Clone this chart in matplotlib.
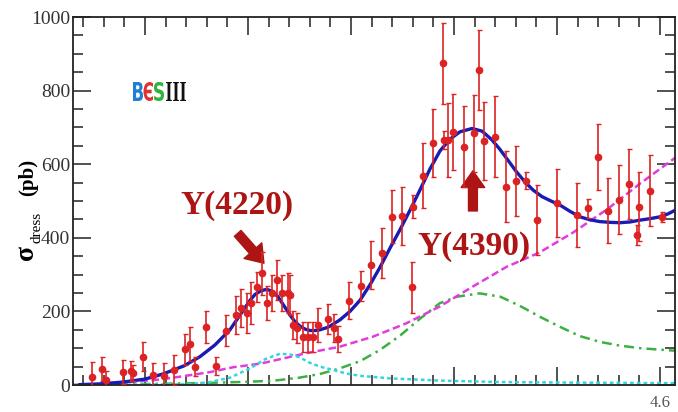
import matplotlib
matplotlib.use("Agg")
import matplotlib.pyplot as plt
from matplotlib.ticker import MultipleLocator, FixedLocator, FixedFormatter
from matplotlib.textpath import TextPath
from matplotlib.patches import PathPatch
from matplotlib.font_manager import FontProperties
from matplotlib.transforms import Affine2D

# data points: sqrt(s) (GeV), dressed cross section (pb), error (pb)
energy = [4.0485, 4.0583, 4.0624, 4.0786, 4.0867, 4.0883, 4.0981, 4.1078,
          4.1182, 4.1279, 4.1385, 4.1434, 4.1483, 4.1589, 4.1686, 4.1783,
          4.1883, 4.1929, 4.1987, 4.2026, 4.2084, 4.2133, 4.2182, 4.2230,
          4.2279, 4.2327, 4.2391, 4.2408, 4.2440, 4.2473, 4.2537, 4.2585,
          4.2634, 4.2683, 4.2780, 4.2835, 4.2877, 4.2981, 4.3094, 4.3194,
          4.3298, 4.3395, 4.3492, 4.3595, 4.3605, 4.3696, 4.3799, 4.3896,
          4.3900, 4.3945, 4.3993, 4.4100, 4.4197, 4.4246, 4.4294, 4.4398,
          4.4502, 4.4599, 4.4696, 4.4803, 4.4997, 4.5191, 4.5298, 4.5401,
          4.5498, 4.5602, 4.5702, 4.5774, 4.5799, 4.5903, 4.6022]
xsec = [21, 43, 14, 36, 39, 33, 77, 27,
        25, 41, 97, 111, 50, 158, 52, 148,
        190, 210, 195, 222, 267, 303, 222, 249,
        285, 251, 249, 245, 163, 154, 131, 131,
        131, 163, 180, 154, 125, 229, 269, 326,
        358, 457, 459, 265, 485, 569, 658, 874,
        666, 666, 688, 648, 684, 856, 664, 675,
        539, 555, 555, 448, 494, 462, 480, 619,
        474, 503, 545, 408, 485, 528, 456]
xsec_err = [42, 33, 25, 32, 27, 22, 40, 33,
            34, 41, 42, 47, 25, 43, 25, 41,
            52, 52, 54, 57, 41, 59, 46, 49,
            54, 49, 54, 54, 38, 41, 41, 41,
            41, 45, 41, 38, 34, 50, 41, 65,
            68, 72, 79, 70, 30, 89, 93, 111,
            24, 100, 104, 109, 104, 109, 106, 109,
            97, 95, 23, 95, 92, 88, 26, 90,
            89, 94, 95, 27, 93, 96, 14]

# total fit
fit_x = [4.0369, 4.0563, 4.0786, 4.1000, 4.1175, 4.1379, 4.1534, 4.1680,
         4.1825, 4.1971, 4.2019, 4.2068, 4.2126, 4.2182, 4.2233, 4.2291,
         4.2350, 4.2408, 4.2456, 4.2505, 4.2553, 4.2602, 4.2650, 4.2699,
         4.2767, 4.2796, 4.2893, 4.2990, 4.3087, 4.3184, 4.3282, 4.3379,
         4.3476, 4.3573, 4.3670, 4.3767, 4.3864, 4.3961, 4.4058, 4.4175,
         4.4272, 4.4369, 4.4447, 4.4524, 4.4602, 4.4689, 4.4767, 4.4854,
         4.4942, 4.5029, 4.5126, 4.5223, 4.5320, 4.5417, 4.5515, 4.5612,
         4.5709, 4.5806, 4.5903, 4.6000, 4.6078, 4.6155]
fit_y = [1, 3, 8, 16, 30, 52, 77, 109,
         150, 210, 230, 246, 256, 260, 255, 240,
         215, 190, 172, 160, 152, 148, 148, 150,
         156, 160, 177, 200, 230, 272, 320, 372,
         422, 475, 530, 587, 636, 668, 688, 697,
         690, 666, 640, 611, 581, 552, 530, 512,
         500, 489, 472, 457, 449, 444, 442, 441,
         443, 448, 452, 457, 465, 476]

# non-resonant component
bkg_x = [4.030, 4.056, 4.085, 4.115, 4.135, 4.163, 4.185, 4.212, 4.234,
         4.256, 4.289, 4.321, 4.354, 4.386, 4.418, 4.451, 4.483, 4.516,
         4.549, 4.581, 4.616]
bkg_y = [0, 2, 8, 15, 23, 35, 48, 58, 72,
         86, 104, 131, 168, 213, 267, 321, 360, 415,
         478, 548, 620]

# Y(4220) component
y4220_x = [4.0301, 4.1437, 4.1631, 4.1825, 4.2019, 4.2165, 4.2311, 4.2408,
           4.2505, 4.2602, 4.2699, 4.2825, 4.2942, 4.3087, 4.3379, 4.3864,
           4.4447, 4.5417, 4.6155]
y4220_y = [0, 2, 8, 20, 45, 70, 85, 83,
           75, 60, 50, 41, 32, 25, 18, 12,
           8, 6, 5]

# Y(4390) component
y4390_x = [4.030, 4.056, 4.105, 4.153, 4.202, 4.226, 4.250, 4.270, 4.289,
           4.309, 4.328, 4.348, 4.367, 4.386, 4.403, 4.425, 4.445, 4.464,
           4.483, 4.503, 4.522, 4.542, 4.561, 4.581, 4.600, 4.616]
y4390_y = [0, 1, 3, 5, 9, 12, 20, 30, 45,
           65, 95, 135, 180, 222, 240, 249, 240, 215,
           186, 158, 133, 117, 107, 100, 96, 93]

x_ticks = [4.1, 4.2, 4.3, 4.4, 4.5, 4.6]
x_tick_labels = ["", "", "", "", "", "4.6"]

DARK_RED = "#ad1414"
SERIF = "Liberation Serif"

fig = plt.figure(figsize=(6.78, 4.12), dpi=100)
ax = fig.add_axes([73 / 678, 27 / 412, 602 / 678, 368 / 412])

ax.plot(y4390_x, y4390_y, color="#3cb043", lw=1.8, ls=(0, (4, 2, 1, 2)))
ax.plot(bkg_x, bkg_y, color="#e03ce0", lw=1.8, ls=(0, (3, 1.5)))
ax.plot(y4220_x, y4220_y, color="#35d5e0", lw=1.8, ls=(0, (1.5, 1.2)))
ax.plot(fit_x, fit_y, color="#1a1ab4", lw=2.4, solid_joinstyle="round")

ax.errorbar(energy, xsec, yerr=xsec_err, fmt="o", color="#dc2222",
            ms=4.5, lw=1.2, capsize=1.8, capthick=1.0, zorder=5)

ax.set_xlim(4.0301, 4.6146)
ax.set_ylim(0, 1000)

ax.xaxis.set_major_locator(FixedLocator(x_ticks))
ax.xaxis.set_major_formatter(FixedFormatter(x_tick_labels))
ax.xaxis.set_minor_locator(MultipleLocator(0.02))
ax.yaxis.set_major_locator(MultipleLocator(200))
ax.yaxis.set_minor_locator(MultipleLocator(50))
ax.tick_params(which="both", direction="in", top=True, right=True,
               color="#333333", width=1.2)
ax.tick_params(which="major", length=13)
ax.tick_params(which="minor", length=7)
ax.tick_params(axis="y", labelsize=14, pad=2, labelcolor="#333333")
ax.tick_params(axis="x", labelsize=12, pad=7, labelcolor="#555555")
for lab in ax.get_xticklabels() + ax.get_yticklabels():
    lab.set_family(SERIF)
for sp in ax.spines.values():
    sp.set_linewidth(1.3)
    sp.set_color("#222222")

# y label: sigma_dress (pb)
fig.text(26 / 678, 1 - 252 / 412, "σ", rotation=90, fontsize=20,
         fontweight="bold", family=SERIF, ha="center", va="center")
fig.text(37 / 678, 1 - 227 / 412, "dress", rotation=90, fontsize=11,
         family=SERIF, ha="center", va="center")
fig.text(28 / 678, 1 - 177 / 412, "(pb)", rotation=90, fontsize=15,
         fontweight="bold", family=SERIF, ha="center", va="center")

# resonance labels
ax.text(4.1893, 489, "Y(4220)", color=DARK_RED, fontsize=24,
        fontweight="bold", family=SERIF, ha="center", va="center")
ax.text(4.4194, 375, "Y(4390)", color=DARK_RED, fontsize=24,
        fontweight="bold", family=SERIF, ha="center", va="center")
arrow_style = "simple,head_length=0.6,head_width=0.85,tail_width=0.32"
ax.annotate("", xy=(4.2155, 331), xytext=(4.1900, 412),
            arrowprops=dict(arrowstyle=arrow_style, color=DARK_RED,
                            mutation_scale=20, shrinkA=0, shrinkB=0))
ax.annotate("", xy=(4.4184, 582), xytext=(4.4184, 473),
            arrowprops=dict(arrowstyle=arrow_style, color=DARK_RED,
                            mutation_scale=20, shrinkA=0, shrinkB=0))


# BESIII logo, drawn as scaled glyph outlines (pixel boxes from the top)
def logo_glyph(s, left, right, top, bottom, color, prop):
    path = TextPath((0, 0), s, size=1, prop=prop)
    ext = path.get_extents()
    sx = (right - left) / ext.width / 678
    sy = (bottom - top) / ext.height / 412
    tr = (Affine2D().translate(-ext.x0, -ext.y0).scale(sx, sy)
          .translate(left / 678, 1 - bottom / 412))
    fig.add_artist(PathPatch(path, transform=tr + fig.transFigure,
                             facecolor=color, edgecolor="none"))


sans_bold = FontProperties(family="DejaVu Sans", weight="bold")
serif_bold = FontProperties(family=SERIF, weight="bold")
logo_glyph("B", 133, 143, 82, 101, "#1f7fd6", sans_bold)
logo_glyph("Є", 143.5, 153, 82, 101, "#e23030", sans_bold)
logo_glyph("S", 154, 164, 82, 101, "#2fb33a", sans_bold)
logo_glyph("III", 166, 186, 82, 101, "#111111", serif_bold)

fig.savefig("out.png", dpi=100)
